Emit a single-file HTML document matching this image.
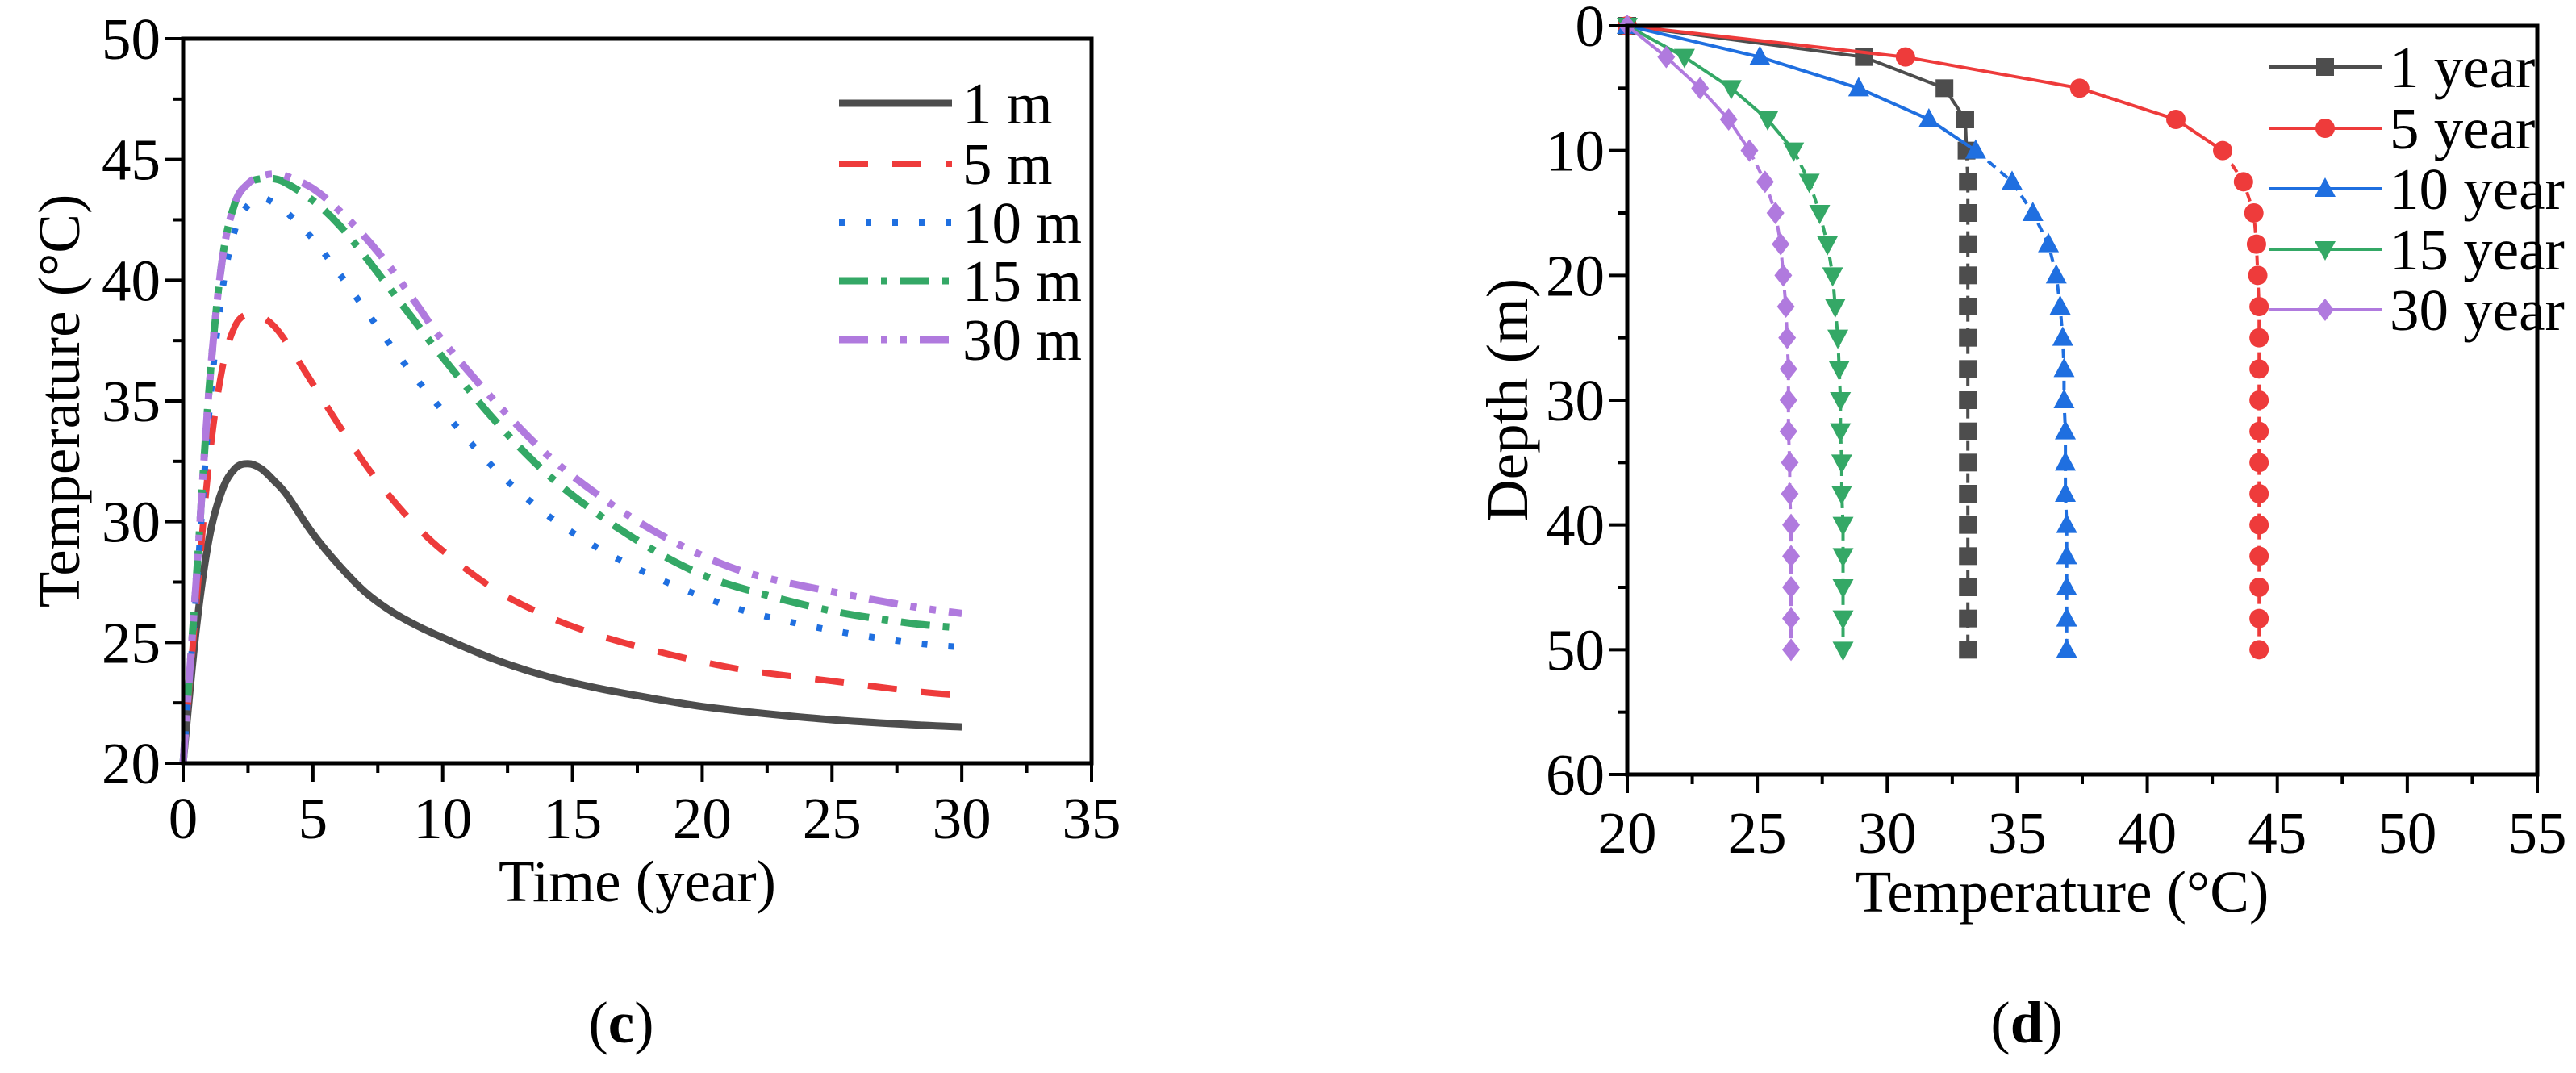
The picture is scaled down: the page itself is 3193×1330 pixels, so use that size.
<!DOCTYPE html>
<html><head><meta charset="utf-8"><style>
html,body{margin:0;padding:0;background:#fff;}
svg{display:block;}
text{font-family:"Liberation Serif","DejaVu Serif",serif;}
</style></head><body>
<svg id="fig" width="3193" height="1330" viewBox="0 0 3193 1330" xmlns="http://www.w3.org/2000/svg" font-family="Liberation Serif, serif"></svg>
<script>
// ---- Chart (c) data ----
const timeYears = [0,0.5,1,1.5,2,2.5,3,3.5,4,5,6,7,8,9,10,12,14,16,18,20,22,25,28,30];
const temp1m  = [20,25.5,29.3,31.3,32.2,32.4,32.2,31.7,31.1,29.5,28.2,27.1,26.3,25.7,25.2,24.3,23.6,23.1,22.7,22.35,22.1,21.8,21.6,21.5];
const temp5m  = [20,26.5,32.5,36.3,38.1,38.6,38.5,38.1,37.4,35.7,34,32.4,31,29.8,28.8,27.2,26.1,25.3,24.7,24.2,23.8,23.4,23,22.8];
const temp10m = [20,27,34.5,39.5,42.1,43.1,43.4,43.2,42.8,41.7,40.3,38.8,37.3,35.9,34.6,32.2,30.3,28.9,27.8,26.9,26.2,25.5,25.0,24.8];
const temp15m = [20,27.5,35.5,40.8,43.2,44,44.2,44.2,44,43.3,42.3,41,39.6,38.2,36.8,34.2,32,30.3,28.9,27.8,27.1,26.3,25.8,25.6];
const temp30m = [20,27.5,35.5,40.8,43.2,44,44.3,44.4,44.3,43.8,42.9,41.8,40.5,39,37.5,35,32.8,31.1,29.7,28.6,27.8,27.1,26.5,26.2];
const cXTicks = [0,5,10,15,20,25,30,35];
const cYTicks = [20,25,30,35,40,45,50];
const cLegend = ["1 m","5 m","10 m","15 m","30 m"];
// ---- Chart (d) data ----
const depthM = [0,2.5,5,7.5,10,12.5,15,17.5,20,22.5,25,27.5,30,32.5,35,37.5,40,42.5,45,47.5,50];
const prof1y  = [20,29.1,32.2,33,33.05,33.1,33.1,33.1,33.1,33.1,33.1,33.1,33.1,33.1,33.1,33.1,33.1,33.1,33.1,33.1,33.1];
const prof5y  = [20,30.7,37.4,41.1,42.9,43.7,44.1,44.2,44.25,44.3,44.3,44.3,44.3,44.3,44.3,44.3,44.3,44.3,44.3,44.3,44.3];
const prof10y = [20,25.1,28.9,31.6,33.4,34.8,35.6,36.2,36.5,36.65,36.75,36.8,36.8,36.85,36.85,36.85,36.9,36.9,36.9,36.9,36.9];
const prof15y = [20,22.2,24.0,25.4,26.4,27.0,27.4,27.7,27.9,28.0,28.1,28.15,28.2,28.2,28.25,28.25,28.3,28.3,28.3,28.3,28.3];
const prof30y = [20,21.5,22.8,23.9,24.7,25.3,25.7,25.9,26.0,26.1,26.15,26.2,26.2,26.2,26.25,26.25,26.3,26.3,26.3,26.3,26.3];
const dXTicks = [20,25,30,35,40,45,50,55];
const dYTicks = [0,10,20,30,40,50,60];
const dLegend = ["1 year","5 year","10 year","15 year","30 year"];

const NS="http://www.w3.org/2000/svg";
const svg=document.getElementById('fig');
function mk(tag,attrs,parent){const e=document.createElementNS(NS,tag);for(const k in attrs)e.setAttribute(k,attrs[k]);if(tag==='text')e.setAttribute('font-family','Liberation Serif, serif');(parent||svg).appendChild(e);return e;}
const COL=["#4d4d4d","#ee3b3b","#1f6fe0","#34a866","#b07ade"];
const FS=73;

function smoothPath(pts){
  let d='M'+pts[0][0].toFixed(1)+' '+pts[0][1].toFixed(1);
  for(let i=0;i<pts.length-1;i++){
    const p0=pts[Math.max(0,i-1)],p1=pts[i],p2=pts[i+1],p3=pts[Math.min(pts.length-1,i+2)];
    const c1x=p1[0]+(p2[0]-p0[0])/6,c1y=p1[1]+(p2[1]-p0[1])/6;
    const c2x=p2[0]-(p3[0]-p1[0])/6,c2y=p2[1]-(p3[1]-p1[1])/6;
    d+=` C${c1x.toFixed(1)} ${c1y.toFixed(1)} ${c2x.toFixed(1)} ${c2y.toFixed(1)} ${p2[0].toFixed(1)} ${p2[1].toFixed(1)}`;
  }
  return d;
}

// ===== Chart (c) =====
const cx0=227,cx1=1353,cy0=946,cy1=48;
const cX=v=>cx0+(v-0)/(35-0)*(cx1-cx0);
const cY=v=>cy0-(v-20)/(50-20)*(cy0-cy1);
const gc=mk('g',{});


const cSeries=[temp1m,temp5m,temp10m,temp15m,temp30m];
const cDash=["none","36 30","7 26","36 16 8 16","36 16 8 16 8 16"];
const cW=[9,8,8,9,9];
const cNames=['line-1m','line-5m','line-10m','line-15m','line-30m'];
cSeries.forEach((s,i)=>{
  const d=smoothPath(s.map((v,j)=>[cX(timeYears[j]),cY(v)]));
  const p=mk('path',{d:d,fill:'none',stroke:COL[i],'stroke-width':cW[i],'stroke-dasharray':cDash[i],'stroke-linejoin':'round'},gc);
  
  
});
const cf=mk('rect',{x:cx0,y:cy1,width:cx1-cx0,height:cy0-cy1,fill:'none',stroke:'#000','stroke-width':5},gc);


cXTicks.forEach((t,i)=>{
  mk('line',{x1:cX(t),x2:cX(t),y1:cy0,y2:cy0+23,stroke:'#000','stroke-width':4},gc);
  if(i<cXTicks.length-1){const m=(t+cXTicks[i+1])/2;mk('line',{x1:cX(m),x2:cX(m),y1:cy0,y2:cy0+12,stroke:'#000','stroke-width':4},gc);}
  const tx=mk('text',{x:cX(t),y:cy0+93,'font-size':FS,'text-anchor':'middle'},gc);tx.textContent=t;
  
  
});
cYTicks.forEach((t,i)=>{
  mk('line',{x1:cx0-23,x2:cx0,y1:cY(t),y2:cY(t),stroke:'#000','stroke-width':4},gc);
  if(i<cYTicks.length-1){const m=(t+cYTicks[i+1])/2;mk('line',{x1:cx0-12,x2:cx0,y1:cY(m),y2:cY(m),stroke:'#000','stroke-width':4},gc);}
  const tx=mk('text',{x:cx0-28,y:cY(t)+25,'font-size':FS,'text-anchor':'end'},gc);tx.textContent=t;
  
  
});
let t1=mk('text',{x:(cx0+cx1)/2,y:1117,'font-size':FS,'text-anchor':'middle'},gc);t1.textContent='Time (year)';


let t2=mk('text',{x:0,y:0,'font-size':FS,'text-anchor':'middle',transform:'translate(98,'+((cy0+cy1)/2)+') rotate(-90)'},gc);t2.textContent='Temperature (°C)';


const cLegY=[128,203,276,348,421];
cLegend.forEach((n,i)=>{
  const g=mk('g',{},gc);
  
  
  mk('line',{x1:1040,x2:1180,y1:cLegY[i],y2:cLegY[i],stroke:COL[i],'stroke-width':cW[i],'stroke-dasharray':cDash[i]},g);
  const tx=mk('text',{x:1193,y:cLegY[i]+25,'font-size':FS},g);tx.textContent=n;
});
let lc=mk('text',{x:770,y:1292,'font-size':FS,'text-anchor':'middle'},gc);
lc.innerHTML='(<tspan font-weight="bold">c</tspan>)';



// ===== Chart (d) =====
const dx0=2017,dx1=3145,dy0=32,dy1=960;
const dX=v=>dx0+(v-20)/(55-20)*(dx1-dx0);
const dY=v=>dy0+(v-0)/(60-0)*(dy1-dy0);
const gd=mk('g',{});


const dSeries=[prof1y,prof5y,prof10y,prof15y,prof30y];
const dNames=['line-1-year','line-5-year','line-10-year','line-15-year','line-30-year'];
function marker(i,x,y,parent){
  const c=COL[i];let e;
  if(i===0)e=mk('rect',{x:x-11,y:y-11,width:22,height:22,fill:c},parent);
  else if(i===1)e=mk('circle',{cx:x,cy:y,r:12,fill:c},parent);
  else if(i===2)e=mk('polygon',{points:`${x},${y-14} ${x-13},${y+10} ${x+13},${y+10}`,fill:c},parent);
  else if(i===3)e=mk('polygon',{points:`${x},${y+14} ${x-13},${y-10} ${x+13},${y-10}`,fill:c},parent);
  else e=mk('polygon',{points:`${x},${y-14} ${x-11},${y} ${x},${y+14} ${x+11},${y}`,fill:c},parent);
  return e;
}
dSeries.forEach((s,i)=>{
  const g=mk('g',{},gd);
  
  
  const split=4;
  let d1=s.slice(0,split+1).map((v,j)=>(j?'L':'M')+dX(v).toFixed(1)+' '+dY(depthM[j]).toFixed(1)).join(' ');
  let d2=s.slice(split).map((v,j)=>(j?'L':'M')+dX(v).toFixed(1)+' '+dY(depthM[j+split]).toFixed(1)).join(' ');
  mk('path',{d:d1,fill:'none',stroke:COL[i],'stroke-width':4},g);
  mk('path',{d:d2,fill:'none',stroke:COL[i],'stroke-width':4,'stroke-dasharray':'12 8'},g);
  s.forEach((v,j)=>{const m=marker(i,dX(v),dY(depthM[j]),g);
    
    });
});
const df=mk('rect',{x:dx0,y:dy0,width:dx1-dx0,height:dy1-dy0,fill:'none',stroke:'#000','stroke-width':5},gd);


dXTicks.forEach((t,i)=>{
  mk('line',{x1:dX(t),x2:dX(t),y1:dy1,y2:dy1+23,stroke:'#000','stroke-width':4},gd);
  if(i<dXTicks.length-1){const m=(t+dXTicks[i+1])/2;mk('line',{x1:dX(m),x2:dX(m),y1:dy1,y2:dy1+12,stroke:'#000','stroke-width':4},gd);}
  const tx=mk('text',{x:dX(t),y:dy1+97,'font-size':FS,'text-anchor':'middle'},gd);tx.textContent=t;
  
  
});
dYTicks.forEach((t,i)=>{
  mk('line',{x1:dx0-23,x2:dx0,y1:dY(t),y2:dY(t),stroke:'#000','stroke-width':4},gd);
  if(i<dYTicks.length-1){const m=(t+dYTicks[i+1])/2;mk('line',{x1:dx0-12,x2:dx0,y1:dY(m),y2:dY(m),stroke:'#000','stroke-width':4},gd);}
  const tx=mk('text',{x:dx0-28,y:dY(t)+25,'font-size':FS,'text-anchor':'end'},gd);tx.textContent=t;
  
  
});
let t3=mk('text',{x:(dx0+dx1)/2-25,y:1130,'font-size':FS,'text-anchor':'middle'},gd);t3.textContent='Temperature (°C)';


let t4=mk('text',{x:0,y:0,'font-size':FS,'text-anchor':'middle',transform:'translate(1893,'+((dy0+dy1)/2)+') rotate(-90)'},gd);t4.textContent='Depth (m)';


const dLegY=[83,159,234,309,384];
dLegend.forEach((n,i)=>{
  const g=mk('g',{},gd);
  
  
  mk('line',{x1:2813,x2:2952,y1:dLegY[i],y2:dLegY[i],stroke:COL[i],'stroke-width':4},g);
  marker(i,2882,dLegY[i],g);
  const tx=mk('text',{x:2962,y:dLegY[i]+25,'font-size':FS},g);tx.textContent=n;
});
let ld=mk('text',{x:2512,y:1292,'font-size':FS,'text-anchor':'middle'},gd);
ld.innerHTML='(<tspan font-weight="bold">d</tspan>)';


</script>
</body></html>
